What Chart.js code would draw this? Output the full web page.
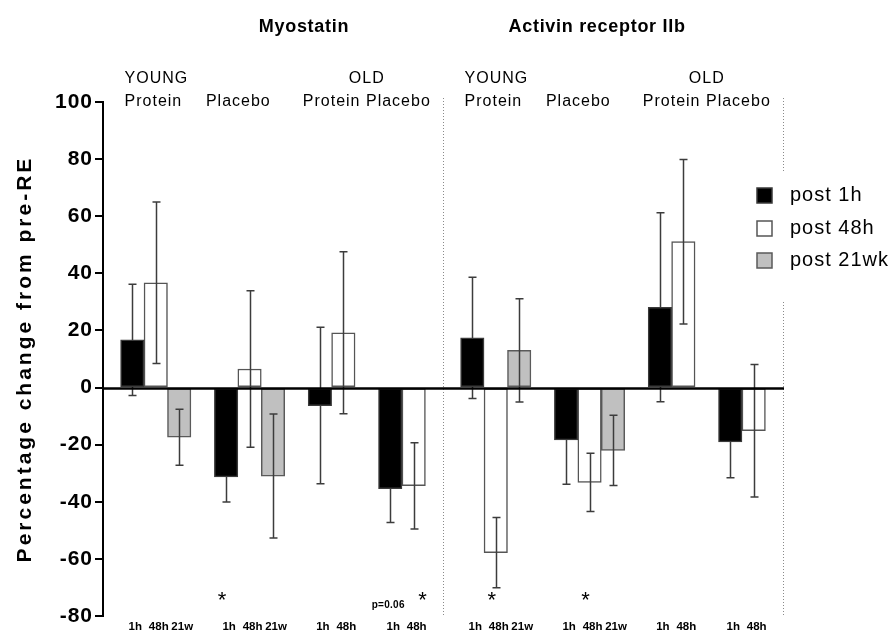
<!DOCTYPE html>
<html><head><meta charset="utf-8">
<script src="https://cdn.jsdelivr.net/npm/chart.js@4"></script>
<style>html,body{margin:0;padding:0;background:#fff}#wrap{width:896px;height:635px}</style>
</head><body><div id="wrap"><canvas id="c" width="896" height="635"></canvas></div>
<script>
// ---------- data ----------
const panels = ['Myostatin', 'Activin receptor IIb'];
const groupAges = ['YOUNG', 'YOUNG', 'OLD', 'OLD'];
const groupTreatments = ['Protein', 'Placebo', 'Protein', 'Placebo'];
const groupTimepoints = [['1h', '48h', '21w'], ['1h', '48h', '21w'], ['1h', '48h'], ['1h', '48h']];
const seriesLabels = ['post 1h', 'post 48h', 'post 21wk'];
// order: Myostatin (Y-Pro, Y-Pla, O-Pro, O-Pla), Activin receptor IIb (Y-Pro, Y-Pla, O-Pro, O-Pla)
const post1hMean = [16.7, -31.3, -6.3, -35.4, 17.4, -18.3, 28.1, -19.0];
const post1hSem = [19.5, 8.8, 27.4, 11.9, 21.2, 15.6, 33.1, 12.6];
const post48hMean = [36.7, 6.5, 19.2, -34.4, -57.8, -33.2, 51.1, -15.1];
const post48hSem = [28.3, 27.4, 28.4, 15.1, 12.3, 10.2, 28.8, 23.2];
const post21wkMean = [-17.4, -31.0, null, null, 13.0, -22.0, null, null];
const post21wkSem = [9.8, 21.7, null, null, 18.1, 12.3, null, null];
const yTicks = [-80, -60, -40, -20, 0, 20, 40, 60, 80, 100];
// significance marks: panel, group, series index
const sigMarks = [
  {panel: 0, group: 1, series: 0, text: '*'},
  {panel: 0, group: 3, series: 0, text: 'p=0.06'},
  {panel: 0, group: 3, series: 1, text: '*'},
  {panel: 1, group: 0, series: 1, text: '*'},
  {panel: 1, group: 1, series: 1, text: '*'}
];

// ---------- layout helpers (slot units) ----------
const PANEL_W = 14.5;
const groupStart = [];
(function(){ let o = 0; groupTimepoints.forEach((t, g) => { groupStart[g] = o; o += t.length + 1; }); })();
const usedSlots = groupStart[groupStart.length - 1] + groupTimepoints[groupTimepoints.length - 1].length;
const PAD = (PANEL_W - usedSlots) / 2;
function barX(p, g, t) { return p * PANEL_W + PAD + groupStart[g] + t + 0.5; }

const means = [post1hMean, post48hMean, post21wkMean];
const sems = [post1hSem, post48hSem, post21wkSem];
const fills = ['#000000', '#ffffff', '#c0c0c0'];
const borders = ['#3a3a3a', '#555555', '#5a5a5a'];

const datasets = seriesLabels.map((lab, s) => {
  const data = [];
  panels.forEach((pn, p) => {
    groupTimepoints.forEach((tps, g) => {
      const k = p * groupTimepoints.length + g;
      if (s < tps.length && means[s][k] !== null) {
        data.push({x: barX(p, g, s), y: means[s][k], sem: sems[s][k]});
      }
    });
  });
  return {label: lab, data, backgroundColor: fills[s], borderColor: borders[s],
    borderWidth: 1.5, borderSkipped: false, grouped: false, barPercentage: 1, categoryPercentage: 1};
});

// x tick positions + labels
const xTickPos = [], xTickLab = [];
panels.forEach((pn, p) => groupTimepoints.forEach((tps, g) => tps.forEach((t, i) => {
  xTickPos.push(barX(p, g, i)); xTickLab.push(t);
})));

const FONT = "'Liberation Sans', Arial, Helvetica, sans-serif";

function drawErrors(chart, behind) {
  const {ctx, scales: {y}} = chart;
  ctx.save();
  ctx.strokeStyle = '#3c3c3c';
  ctx.lineWidth = 1.5;
  chart.data.datasets.forEach((ds, di) => {
    // error bars of black bars are drawn behind them, the others on top
    if ((ds.backgroundColor === '#000000') !== behind) return;
    const meta = chart.getDatasetMeta(di);
    meta.data.forEach((el, i) => {
      const pt = ds.data[i];
      const px = Math.round(el.x) + 0.5;
      const yh = y.getPixelForValue(pt.y + pt.sem), yl = y.getPixelForValue(pt.y - pt.sem);
      ctx.beginPath();
      ctx.moveTo(px, yh); ctx.lineTo(px, yl);
      ctx.moveTo(px - 4, yh); ctx.lineTo(px + 4, yh);
      ctx.moveTo(px - 4, yl); ctx.lineTo(px + 4, yl);
      ctx.stroke();
    });
  });
  ctx.restore();
}

function spacedLabels(scale, spacing) {
  if (scale._spacedPatch) return;
  const orig = scale.drawLabels;
  scale.drawLabels = function(area) {
    this.ctx.save();
    this.ctx.letterSpacing = spacing;
    orig.call(this, area);
    this.ctx.restore();
  };
  scale._spacedPatch = true;
}

const decor = {
  id: 'decor',
  afterLayout(chart) {
    spacedLabels(chart.scales.x, '0px');
    spacedLabels(chart.scales.y, '1px');
  },
  beforeDatasetsDraw(chart) {
    const {ctx, chartArea: a, scales: {x}} = chart;
    ctx.save();
    ctx.strokeStyle = '#8a8a8a';
    ctx.lineWidth = 1;
    ctx.setLineDash([1, 2]);
    [PANEL_W, 2 * PANEL_W].forEach(v => {
      const px = Math.round(x.getPixelForValue(v)) + 0.5;
      ctx.beginPath(); ctx.moveTo(px, a.top - 4); ctx.lineTo(px, a.bottom + 1); ctx.stroke();
    });
    ctx.restore();
    drawErrors(chart, true);
  },
  afterDatasetsDraw(chart) {
    const {ctx, chartArea: a, scales: {x, y}} = chart;
    drawErrors(chart, false);
    ctx.save();
    const y0 = y.getPixelForValue(0);
    ctx.strokeStyle = '#000';
    ctx.lineWidth = 2.5;
    ctx.beginPath(); ctx.moveTo(a.left, y0 + 1); ctx.lineTo(x.getPixelForValue(2 * PANEL_W) + 1, y0 + 1); ctx.stroke();
    ctx.restore();
  },
  afterDraw(chart) {
    const {ctx, chartArea: a, scales: {x, y}} = chart;
    const u = x.getPixelForValue(1) - x.getPixelForValue(0);
    ctx.save();
    ctx.fillStyle = '#000';
    ctx.textBaseline = 'middle';
    // panel titles
    const titleCenters = [8.57, 21.07];
    ctx.font = 'bold 18px ' + FONT;
    ctx.textAlign = 'center';
    ctx.letterSpacing = '0.7px';
    panels.forEach((pn, p) => ctx.fillText(pn, x.getPixelForValue(titleCenters[p]), 27));
    // group labels
    ctx.font = '16px ' + FONT;
    ctx.letterSpacing = '1px';
    panels.forEach((pn, p) => {
      const base = p * PANEL_W + PAD;
      const ys = x.getPixelForValue(base + groupStart[0]) + 0.17 * u;
      ctx.textAlign = 'left';
      ctx.fillText(groupAges[0], ys, 79);
      ctx.fillText(groupTreatments[0], ys, 102);
      ctx.fillText(groupTreatments[1], x.getPixelForValue(base + groupStart[1]) - 0.36 * u, 102);
      const oc = x.getPixelForValue(base + (groupStart[2] + groupStart[3] + groupTimepoints[3].length) / 2);
      ctx.textAlign = 'center';
      ctx.fillText(groupAges[2], oc, 79);
      ctx.fillText(groupTreatments[2] + ' ' + groupTreatments[3], oc, 102);
    });
    // significance marks
    sigMarks.forEach(m => {
      const cx = x.getPixelForValue(barX(m.panel, m.group, m.series));
      ctx.textAlign = 'center';
      if (m.text === '*') {
        ctx.font = '22px ' + FONT;
        ctx.textBaseline = 'alphabetic';
        const shift = (m.panel === 0 && m.group === 3) ? 0.4 * u : -0.15 * u;
        ctx.fillText('*', cx + shift, 607);
      } else {
        ctx.font = 'bold 10px ' + FONT;
        ctx.textBaseline = 'middle';
        ctx.letterSpacing = '0.3px';
        ctx.fillText(m.text, cx - 2, 605);
        ctx.letterSpacing = '1px';
      }
    });
    // y title
    ctx.save();
    ctx.translate(25, (a.top + a.bottom) / 2);
    ctx.rotate(-Math.PI / 2);
    ctx.font = 'bold 21px ' + FONT;
    ctx.letterSpacing = '3px';
    ctx.textAlign = 'center';
    ctx.textBaseline = 'middle';
    ctx.fillText('Percentage change from pre-RE', 0, 0);
    ctx.restore();
    // legend
    ctx.fillStyle = '#fff';
    ctx.fillRect(745, 172, 151, 128);
    ctx.font = '20px ' + FONT;
    ctx.letterSpacing = '1px';
    ctx.textAlign = 'left';
    ctx.textBaseline = 'middle';
    const rows = [195, 228, 260];
    chart.data.datasets.forEach((ds, i) => {
      ctx.fillStyle = ds.backgroundColor;
      ctx.fillRect(757, rows[i] - 7, 15, 15);
      ctx.strokeStyle = ds.borderColor;
      ctx.lineWidth = 1.5;
      ctx.strokeRect(757, rows[i] - 7, 15, 15);
      ctx.fillStyle = '#000';
      ctx.fillText(ds.label, 790, rows[i]);
    });
    ctx.restore();
  }
};

new Chart(document.getElementById('c'), {
  type: 'bar',
  data: {datasets},
  options: {
    responsive: false,
    animation: false,
    events: [],
    layout: {padding: {left: 9, top: 102, right: 113, bottom: 0}},
    plugins: {legend: {display: false}, tooltip: {enabled: false}},
    scales: {
      x: {
        type: 'linear', min: 0, max: 2 * PANEL_W, offset: false,
        grid: {display: false, drawTicks: false},
        border: {display: false},
        afterBuildTicks: s => { s.ticks = xTickPos.map(v => ({value: v})); },
        ticks: {
          autoSkip: false, maxRotation: 0, padding: 4, color: '#000', labelOffset: 3,
          font: {family: FONT, size: 11.5, weight: 'bold'},
          callback: (v, i) => xTickLab[i]
        },
        afterFit: s => { s.height = 19; }
      },
      y: {
        min: -80, max: 100,
        afterBuildTicks: s => { s.ticks = yTicks.map(v => ({value: v})); },
        ticks: {color: '#000', padding: 2, font: {family: FONT, size: 21, weight: 'bold'}},
        grid: {drawOnChartArea: false, color: '#000', tickLength: 8, lineWidth: 2},
        border: {color: '#000', width: 2},
        afterFit: s => { s.width = 94; }
      }
    }
  },
  plugins: [decor]
});
</script></body></html>
